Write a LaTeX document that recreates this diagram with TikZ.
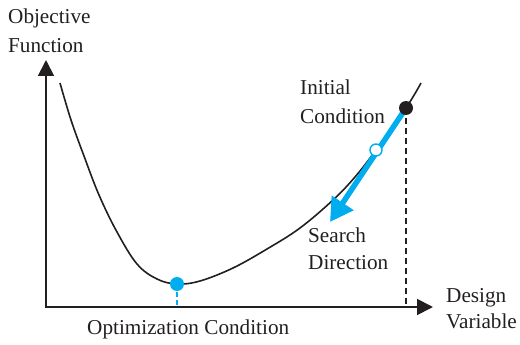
\documentclass[tikz,border=0pt]{standalone}
\usepackage{fontspec}
\setmainfont{Liberation Serif}
\usetikzlibrary{arrows.meta}
\definecolor{cyanb}{RGB}{0,174,239}
\definecolor{inkc}{RGB}{35,31,32}
\begin{document}
\begin{tikzpicture}[x=1pt,y=-1pt,
  lbl/.style={inner sep=0pt, anchor=base west, text=inkc, font=\fontsize{21.2}{24}\selectfont},
  axis/.style={draw=inkc, line width=1.8pt, {Triangle[length=16pt,width=16pt]}-{Triangle[length=16pt,width=16pt]}},
  curve/.style={draw=inkc, line width=1.6pt},
  blackdash/.style={draw=inkc, line width=1.2pt, dash pattern=on 6pt off 4pt},
  bluedash/.style={draw=cyanb, line width=1.2pt, dash pattern=on 5pt off 3pt},
  searcharrow/.style={draw=cyanb, line width=5.5pt, -{Triangle[length=23pt,width=25pt]}},
  bluedot/.style={circle, fill=cyanb, minimum size=14pt, inner sep=0pt},
  blackdot/.style={circle, fill=inkc, minimum size=14pt, inner sep=0pt},
  whitedot/.style={circle, fill=white, draw=cyanb, line width=1.4pt, minimum size=12pt, inner sep=0pt}
]
\useasboundingbox (0,0) rectangle (520,345);

% axes
\coordinate (O) at (46,307);
\coordinate (ytop) at (46,60);
\coordinate (xend) at (433,307);
\draw[axis] (ytop) -- (O) -- (xend);

% objective curve
\draw[curve] plot[smooth, tension=0.6] coordinates {
  (60,83) (71,120) (84,156) (99,195) (117,232) (137,264)
  (157,279) (177,284) (200,281) (233,268) (267,249) (300,228) (333,200)
  (355,177) (376,150) (406,108) (421,83)};

% key points
\coordinate (initpos) at (406,108);
\coordinate (minpos) at (177,284);
\coordinate (tip) at (330,222);

\draw[blackdash] (initpos) -- (initpos |- O);
\draw[bluedash] (minpos) -- (minpos |- O);
\draw[searcharrow] (initpos) -- (tip);

\node[blackdot] (init) at (initpos) {};
\node[whitedot] (next) at (376,150) {};
\node[bluedot] (mini) at (minpos) {};

% labels
\node[lbl] (obj1) at (8,24) {Objective};
\node[lbl] (obj2) at (8,53) {Function};
\node[lbl] (ini1) at (300,95) {Initial};
\node[lbl] (ini2) at (300,124) {Condition};
\node[lbl] (sea1) at (308,242) {Search};
\node[lbl] (sea2) at (308,269) {Direction};
\node[lbl] (opt) at (87,334) {Optimization Condition};
\node[lbl] (des1) at (446,302) {Design};
\node[lbl] (des2) at (446,328) {Variable};
\end{tikzpicture}
\end{document}
